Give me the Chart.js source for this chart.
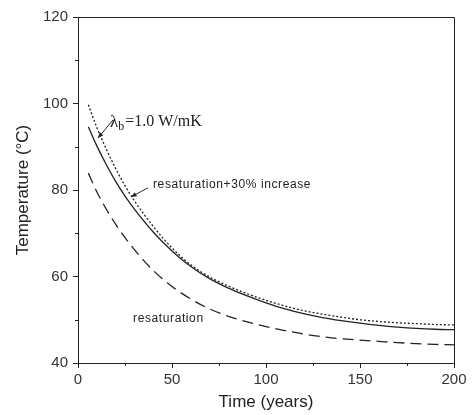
<!DOCTYPE html>
<html>
<head>
<meta charset="utf-8">
<script src="https://cdn.jsdelivr.net/npm/chart.js@4/dist/chart.umd.min.js"></script>
<style>
  html, body { margin: 0; padding: 0; background: #fff; }
  #wrap { width: 472px; height: 415px; }
</style>
</head>
<body>
<div id="wrap"><canvas id="grafico" width="472" height="415"></canvas></div>
<script>
// Datos
const anios = [5.5, 10, 15, 20, 25, 30, 40, 50, 60, 70, 80, 90, 100, 110, 120, 130, 140, 150, 160, 170, 180, 190, 200];
const resat30 = [94.6, 90.2, 85.9, 82.0, 78.6, 75.6, 70.3, 65.9, 62.3, 59.5, 57.3, 55.5, 53.9, 52.5, 51.4, 50.5, 49.8, 49.2, 48.7, 48.3, 48.0, 47.8, 47.7];
const lambda10 = [99.7, 94.5, 89.5, 85, 81, 77.5, 71.6, 66.6, 62.7, 59.9, 57.8, 56, 54.5, 53.2, 52.1, 51.3, 50.6, 50.0, 49.6, 49.3, 49.1, 48.9, 48.8];
const resat = [83.9, 79.6, 75.6, 72.1, 69, 66.2, 61.4, 57.7, 54.8, 52.5, 50.8, 49.5, 48.4, 47.5, 46.7, 46.1, 45.6, 45.3, 45.0, 44.7, 44.5, 44.3, 44.2];

const ticksX = [0, 50, 100, 150, 200];
const ticksY = [40, 60, 80, 100, 120];
const menoresX = [25, 75, 125, 175];
const menoresY = [50, 70, 90, 110];

const INK = '#222';

function puntos(valores) {
  return anios.map((a, i) => ({ x: a, y: valores[i] }));
}

// Marco superior/derecho, ticks menores y anotaciones
const extras = {
  id: 'extras',
  afterDraw(chart) {
    const { ctx, chartArea: a, scales: { x, y } } = chart;
    ctx.save();
    ctx.strokeStyle = INK;
    ctx.lineWidth = 1;
    ctx.beginPath();
    ctx.moveTo(a.left, a.top + 0.5);
    ctx.lineTo(a.right + 0.5, a.top + 0.5);
    ctx.lineTo(a.right + 0.5, a.bottom);
    ctx.stroke();

    ctx.beginPath();
    menoresX.forEach(v => {
      const px = Math.round(x.getPixelForValue(v)) + 0.5;
      ctx.moveTo(px, a.bottom); ctx.lineTo(px, a.bottom + 3);
    });
    menoresY.forEach(v => {
      const py = Math.round(y.getPixelForValue(v)) + 0.5;
      ctx.moveTo(a.left, py); ctx.lineTo(a.left - 3, py);
    });
    ctx.stroke();

    // flechas
    flecha(ctx, x.getPixelForValue(18.6), y.getPixelForValue(96.2), x.getPixelForValue(10.6), y.getPixelForValue(92));
    flecha(ctx, x.getPixelForValue(37.2), y.getPixelForValue(80.5), x.getPixelForValue(28.2), y.getPixelForValue(78.4));

    ctx.fillStyle = INK;
    ctx.textBaseline = 'middle';
    // lambda_b = 1.0 W/mK
    let tx = x.getPixelForValue(17);
    const ty = y.getPixelForValue(95.7);
    ctx.font = '17px "Liberation Serif", "DejaVu Serif", serif';
    ctx.fillText('λ', tx, ty);
    tx += ctx.measureText('λ').width;
    ctx.font = '12px "Liberation Serif", "DejaVu Serif", serif';
    ctx.fillText('b', tx, ty + 5);
    tx += ctx.measureText('b').width + 1;
    ctx.font = '16px "Liberation Serif", "DejaVu Serif", serif';
    ctx.fillText('=1.0 W/mK', tx, ty);

    ctx.font = '12px "Liberation Sans", Arial, sans-serif';
    ctx.letterSpacing = '0.6px';
    ctx.fillText('resaturation+30% increase', x.getPixelForValue(39.9), y.getPixelForValue(81.2));
    ctx.fillText('resaturation', x.getPixelForValue(29.3), y.getPixelForValue(50.2));
    ctx.restore();
  }
};

function flecha(ctx, x1, y1, x2, y2) {
  const ang = Math.atan2(y2 - y1, x2 - x1);
  ctx.beginPath();
  ctx.moveTo(x1, y1);
  ctx.lineTo(x2, y2);
  ctx.stroke();
  ctx.beginPath();
  ctx.moveTo(x2, y2);
  ctx.lineTo(x2 - 6 * Math.cos(ang - 0.4), y2 - 6 * Math.sin(ang - 0.4));
  ctx.lineTo(x2 - 6 * Math.cos(ang + 0.4), y2 - 6 * Math.sin(ang + 0.4));
  ctx.closePath();
  ctx.fillStyle = INK;
  ctx.fill();
}

const serie = (valores, dash) => ({
  data: puntos(valores),
  borderColor: INK,
  borderWidth: 1.3,
  borderDash: dash,
  pointRadius: 0,
  fill: false,
  cubicInterpolationMode: 'monotone'
});

new Chart(document.getElementById('grafico'), {
  type: 'line',
  data: {
    datasets: [
      serie(lambda10, [2, 2]),
      serie(resat30, []),
      serie(resat, [11, 6])
    ]
  },
  options: {
    responsive: false,
    animation: false,
    layout: { padding: { top: 17, right: 18, left: 0, bottom: 0 } },
    plugins: { legend: { display: false }, tooltip: { enabled: false } },
    scales: {
      x: {
        type: 'linear',
        min: 0, max: 200,
        afterFit: s => { s.height = 52; },
        afterBuildTicks: s => { s.ticks = ticksX.map(v => ({ value: v })); },
        ticks: { color: '#333', font: { family: '"Liberation Sans", Arial, sans-serif', size: 15 }, padding: 3, maxRotation: 0 },
        grid: { drawOnChartArea: false, tickLength: 5, color: INK },
        border: { color: INK, width: 1 },
        title: { display: true, text: 'Time (years)', color: '#222', font: { family: '"Liberation Sans", Arial, sans-serif', size: 17 }, padding: { top: 0, bottom: 2 } }
      },
      y: {
        min: 40, max: 120,
        afterFit: s => { s.width = 78; },
        afterBuildTicks: s => { s.ticks = ticksY.map(v => ({ value: v })); },
        ticks: { color: '#333', font: { family: '"Liberation Sans", Arial, sans-serif', size: 15 }, padding: 5 },
        grid: { drawOnChartArea: false, tickLength: 5, color: INK },
        border: { color: INK, width: 1 },
        title: { display: true, text: 'Temperature (°C)', color: '#222', font: { family: '"Liberation Sans", Arial, sans-serif', size: 17 }, padding: { top: 13, bottom: 0 } }
      }
    }
  },
  plugins: [extras]
});
</script>
</body>
</html>
